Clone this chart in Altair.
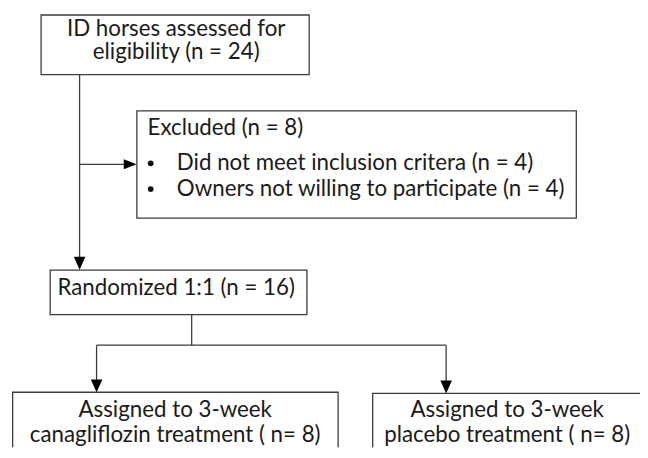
import altair as alt
import pandas as pd

FONT = "Lato"
FS = 22.6

# Boxes (image pixel coordinates: left, top, right, bottom)
box_x1 = [41.5, 138.5, 50.7, 12.7, 377.3]
box_y1 = [12.3, 109.3, 270.7, 394.3, 395.5]
box_x2 = [313.0, 583.5, 310.7, 342.3, 660.0]
box_y2 = [72.7, 218.0, 315.7, 470.0, 470.0]

# Connector segments
seg_x1 = [80.5, 80.5, 194.0, 97.7, 97.7, 451.7]
seg_y1 = [72.7, 163.5, 315.7, 346.7, 346.7, 346.7]
seg_x2 = [80.5, 126.0, 194.0, 451.7, 97.7, 451.7]
seg_y2 = [260.0, 163.5, 346.7, 346.7, 385.0, 386.0]

# Arrow heads (tip positions)
down_tip_x = [80.5, 97.7, 451.7]
down_tip_y = [270.2, 394.3, 395.5]
right_tip_x = [138.2]
right_tip_y = [163.5]

# Bullets
bullet_x = [152.5, 152.5]
bullet_y = [162.5, 188.5]

# Text lines
txt = [
    "ID horses assessed for", "eligibility (n = 24)",
    "Excluded (n = 8)",
    "Did not meet inclusion critera (n = 4)",
    "Owners not willing to participate (n = 4)",
    "Randomized 1:1 (n = 16)",
    "Assigned to 3-week", "canagliflozin treatment ( n= 8)",
    "Assigned to 3-week", "placebo treatment ( n= 8)",
]
txt_x = [178.3, 178.3, 149.3, 179.0, 179.0, 178.3, 177.3, 177.3, 513.5, 513.5]
txt_y = [33.3, 57.0, 134.3, 169.0, 195.5, 295.7, 419.3, 445.0, 419.3, 445.0]
txt_align = ["center", "center", "left", "left", "left", "center",
             "center", "center", "center", "center"]

boxes = pd.DataFrame({"x1": box_x1, "y1": box_y1, "x2": box_x2, "y2": box_y2})
segs = pd.DataFrame({"x1": seg_x1, "y1": seg_y1, "x2": seg_x2, "y2": seg_y2})
downs = pd.DataFrame({"x": down_tip_x, "y": down_tip_y})
rights = pd.DataFrame({"x": right_tip_x, "y": right_tip_y})
bullets = pd.DataFrame({"x": bullet_x, "y": bullet_y})
texts = pd.DataFrame({"t": txt, "x": txt_x, "y": txt_y, "a": txt_align})

xs = alt.Scale(domain=[8, 648], nice=False, zero=False)
ys = alt.Scale(domain=[8, 450], nice=False, zero=False, reverse=True)

def X(f):
    return alt.X(f, type="quantitative", scale=xs, axis=None)

def Y(f):
    return alt.Y(f, type="quantitative", scale=ys, axis=None)

LINE = "#3c3c3c"

rect = alt.Chart(boxes).mark_rect(fill="white", stroke=LINE, strokeWidth=1.3, clip=True).encode(
    x=X("x1"), x2="x2", y=Y("y1"), y2="y2"
)

rules = alt.Chart(segs).mark_rule(color=LINE, strokeWidth=1.3, clip=True).encode(
    x=X("x1"), x2="x2", y=Y("y1"), y2="y2"
)

ASIZE = 169  # r = 6.5
R = (ASIZE ** 0.5) / 2

down = alt.Chart(downs).mark_point(shape="M-0.9,-1L0.9,-1L0,1Z", filled=True, color="#000000",
                                    size=ASIZE, opacity=1, strokeWidth=0, yOffset=-R).encode(
    x=X("x"), y=Y("y")
)
right = alt.Chart(rights).mark_point(shape="M-1,-0.78L-1,0.78L1,0Z", filled=True, color="#000000",
                                     size=ASIZE, opacity=1, strokeWidth=0, xOffset=-R).encode(
    x=X("x"), y=Y("y")
)

bul = alt.Chart(bullets).mark_point(shape="circle", filled=True, color="#111111",
                                    size=34, opacity=1, strokeWidth=0).encode(
    x=X("x"), y=Y("y")
)

text_layers = []
for al in ["center", "left"]:
    text_layers.append(
        alt.Chart(texts[texts.a == al]).mark_text(
            font=FONT, fontSize=FS, color="#1a1a1a", align=al, baseline="alphabetic"
        ).encode(x=X("x"), y=Y("y"), text="t:N")
    )

chart = alt.layer(rules, rect, down, right, bul, *text_layers).properties(
    width=640, height=442, padding=0, autosize=alt.AutoSizeParams(type="none")
).configure_view(strokeWidth=0)

chart.save("out.html", embed_options={"renderer": "svg", "actions": False})
